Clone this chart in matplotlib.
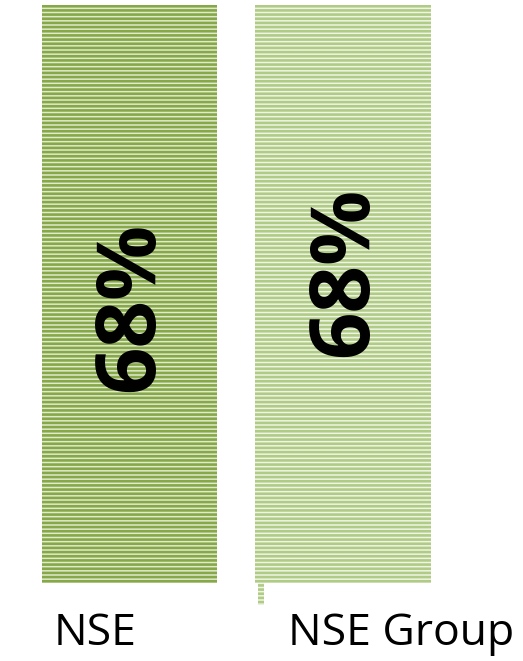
import matplotlib
matplotlib.use("Agg")
import matplotlib.pyplot as plt

categories = ["NSE", "NSE Group"]
values = [68, 68]
labels = ["68%", "68%"]
stripe_colors = ["#86A848", "#B0CB85"]
fill_colors = ["#E0EACC", "#EFF5E5"]
label_ypos = [0.478, 0.538]  # fraction of bar height for value label

plt.rcParams['hatch.linewidth'] = 1.9
BAR_W = 0.82

fig = plt.figure(figsize=(5.23, 6.61), dpi=100)
ax = fig.add_axes([0, 78/661, 1, 578/661])
ax.set_xlim(-0.6066, 1.843)
ax.set_ylim(0, 68)
ax.axis('off')
ax.set_clip_on(False)

for i, (c, v) in enumerate(zip(categories, values)):
    ax.bar(i, v, width=BAR_W, color=fill_colors[i], edgecolor=stripe_colors[i],
           hatch='----', linewidth=0)
    ax.text(i + 0.01, v * label_ypos[i], labels[i], rotation=90, ha='center', va='center',
            fontsize=60, fontweight='bold', family=['Open Sans', 'DejaVu Sans'], color='black')

# small stub artifact below the second bar's left edge
stub = ax.bar(1 - BAR_W / 2 + 0.012, -values[1] * 0.038, width=0.026, align='edge',
              color=fill_colors[1], edgecolor=stripe_colors[1], hatch='----', linewidth=0)
for p in stub:
    p.set_clip_on(False)

# category labels
label_y = 1 - 634/661
fig.text(95/523, label_y, categories[0], ha='center', va='center',
         fontsize=32, family=['Open Sans', 'DejaVu Sans'], color='black')
fig.text(401/523, label_y, categories[1], ha='center', va='center',
         fontsize=32, family=['Open Sans', 'DejaVu Sans'], color='black')

fig.savefig("out.png", dpi=100)
